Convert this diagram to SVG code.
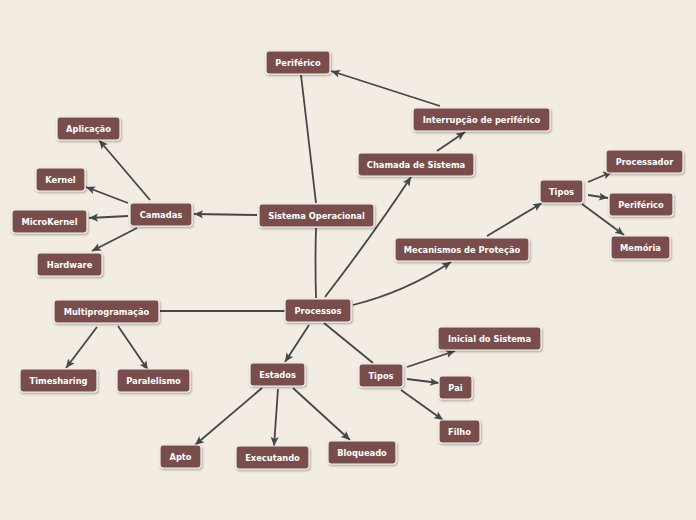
<svg xmlns="http://www.w3.org/2000/svg" width="696" height="520" viewBox="0 0 696 520">
<defs>
<marker id="ah" markerUnits="userSpaceOnUse" markerWidth="10" markerHeight="10" viewBox="0 0 10 10" refX="9" refY="5" orient="auto">
<path d="M0,1 L9,5 L0,9 L2,5 Z" fill="#45454a"/>
</marker>
<filter id="sh" x="-10%" y="-10%" width="130%" height="150%">
<feDropShadow dx="0.8" dy="1.2" stdDeviation="0.8" flood-color="#000" flood-opacity="0.35"/>
</filter>
</defs>
<style>
.n rect{fill:#7a4e4e;stroke:#f4f0ea;stroke-width:1.2;filter:url(#sh)}
.n text{fill:#fff;font-family:"DejaVu Sans",Verdana,sans-serif;font-weight:bold;font-size:8.3px;text-anchor:middle;dominant-baseline:central}
#edges path{fill:none;stroke:#45454a;stroke-width:1.8}
#edges .a{marker-end:url(#ah)}
</style>
<rect width="696" height="520" fill="#f2ece2"/>
<g id="edges">
<path d="M301,75 L316,203"/>
<path class="a" d="M440,106 L331,71"/>
<path class="a" d="M437,151 L465,132"/>
<path class="a" d="M325,297 Q372,236 411,177"/>
<path class="a" d="M257,215 L194,214"/>
<path d="M316,228 Q315,262 316,298"/>
<path class="a" d="M150,200 L99,140"/>
<path class="a" d="M128,203 L86,187"/>
<path class="a" d="M128,216 L89,218"/>
<path class="a" d="M137,228 L92,251"/>
<path class="a" d="M353,305 Q405,292 451,262"/>
<path class="a" d="M487,236 L542,203"/>
<path class="a" d="M588,182 L612,172"/>
<path class="a" d="M588,195 L608,198"/>
<path class="a" d="M582,204 L624,235"/>
<path d="M160,311 L285,311"/>
<path class="a" d="M97,327 L66,368"/>
<path class="a" d="M118,326 L148,370"/>
<path class="a" d="M309,325 L285,362"/>
<path d="M324,323 L373,363"/>
<path class="a" d="M407,367 L455,351"/>
<path class="a" d="M407,379 L439,383"/>
<path class="a" d="M401,390 L443,420"/>
<path class="a" d="M262,388 L195,445"/>
<path class="a" d="M278,389 L274,446"/>
<path class="a" d="M293,388 L350,440"/>
</g>
<g id="periferico1" class="n"><rect x="266" y="51" width="64" height="23" rx="3"/><text x="298" y="62.5">Periférico</text></g>
<g id="sistema-operacional" class="n"><rect x="259" y="204" width="115" height="23" rx="3"/><text x="316.5" y="215.5">Sistema Operacional</text></g>
<g id="aplicacao" class="n"><rect x="57" y="117" width="63" height="23" rx="3"/><text x="88.5" y="128.5">Aplicação</text></g>
<g id="kernel" class="n"><rect x="36" y="168" width="49" height="23" rx="3"/><text x="60.5" y="179.5">Kernel</text></g>
<g id="camadas" class="n"><rect x="130" y="203" width="62" height="23" rx="3"/><text x="161" y="214.5">Camadas</text></g>
<g id="microkernel" class="n"><rect x="12" y="210" width="75" height="23" rx="3"/><text x="49.5" y="221.5">MicroKernel</text></g>
<g id="hardware" class="n"><rect x="37" y="253" width="65" height="23" rx="3"/><text x="69.5" y="264.5">Hardware</text></g>
<g id="interrupcao" class="n"><rect x="413" y="108" width="137" height="23" rx="3"/><text x="481.5" y="119.5">Interrupção de periférico</text></g>
<g id="chamada" class="n"><rect x="358" y="153" width="116" height="23" rx="3"/><text x="416" y="164.5">Chamada de Sistema</text></g>
<g id="tipos1" class="n"><rect x="540" y="180" width="43" height="23" rx="3"/><text x="561.5" y="191.5">Tipos</text></g>
<g id="processador" class="n"><rect x="606" y="150" width="77" height="23" rx="3"/><text x="644.5" y="161.5">Processador</text></g>
<g id="periferico2" class="n"><rect x="609" y="193" width="64" height="23" rx="3"/><text x="641" y="204.5">Periférico</text></g>
<g id="memoria" class="n"><rect x="611" y="236" width="59" height="23" rx="3"/><text x="640.5" y="247.5">Memória</text></g>
<g id="mecanismos" class="n"><rect x="395" y="238" width="134" height="23" rx="3"/><text x="462" y="249.5">Mecanismos de Proteção</text></g>
<g id="multiprogramacao" class="n"><rect x="54" y="300" width="105" height="23" rx="3"/><text x="106.5" y="311.5">Multiprogramação</text></g>
<g id="processos" class="n"><rect x="285" y="299" width="66" height="23" rx="3"/><text x="318" y="310.5">Processos</text></g>
<g id="timesharing" class="n"><rect x="20" y="369" width="77" height="23" rx="3"/><text x="58.5" y="380.5">Timesharing</text></g>
<g id="paralelismo" class="n"><rect x="117" y="369" width="73" height="23" rx="3"/><text x="153.5" y="380.5">Paralelismo</text></g>
<g id="estados" class="n"><rect x="250" y="363" width="55" height="23" rx="3"/><text x="277.5" y="374.5">Estados</text></g>
<g id="tipos2" class="n"><rect x="359" y="364" width="44" height="23" rx="3"/><text x="381" y="375.5">Tipos</text></g>
<g id="inicial" class="n"><rect x="438" y="327" width="103" height="23" rx="3"/><text x="489.5" y="338.5">Inicial do Sistema</text></g>
<g id="pai" class="n"><rect x="439" y="376" width="33" height="23" rx="3"/><text x="455.5" y="387.5">Pai</text></g>
<g id="filho" class="n"><rect x="439" y="420" width="41" height="23" rx="3"/><text x="459.5" y="431.5">Filho</text></g>
<g id="apto" class="n"><rect x="160" y="445" width="41" height="23" rx="3"/><text x="180.5" y="456.5">Apto</text></g>
<g id="executando" class="n"><rect x="236" y="446" width="73" height="23" rx="3"/><text x="272.5" y="457.5">Executando</text></g>
<g id="bloqueado" class="n"><rect x="328" y="441" width="68" height="23" rx="3"/><text x="362" y="452.5">Bloqueado</text></g>
</svg>
